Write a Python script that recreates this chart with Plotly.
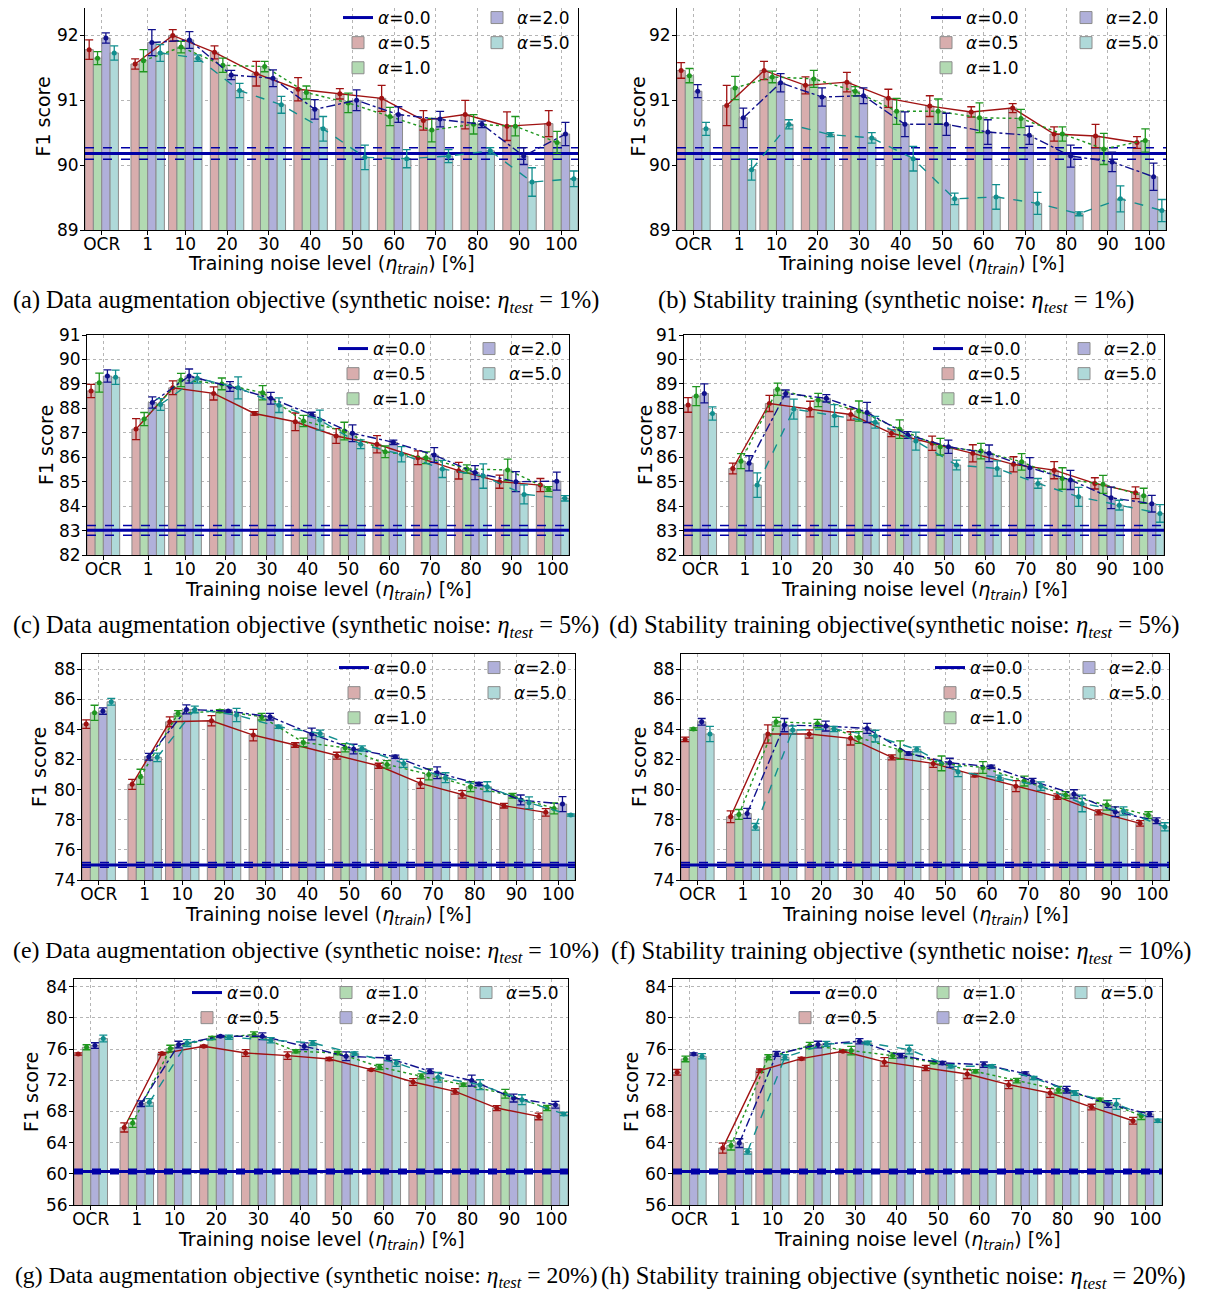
import plotly.graph_objects as go

W, H = 1206, 1298
OX, OY = 8, 8          # page body offset of the figure
FW, FH = W - OX, H - OY
FONT = "DejaVu Sans"
SERIF = "Liberation Serif"

# ---------------- data ----------------
CATEGORIES = ["OCR", "1", "10", "20", "30", "40", "50", "60", "70", "80", "90", "100"]
TRAIN_NOISE = [1, 10, 20, 30, 40, 50, 60, 70, 80, 90, 100]
ALPHAS = ["0.5", "1.0", "2.0", "5.0"]
TEST_NOISE = ["1%", "5%", "10%", "20%"]
BASELINE_MEAN = [90.18, 83.01, 75.00, 60.30]
BASELINE_STD = [0.09, 0.20, 0.16, 0.30]

# (a) data augmentation, eta_test = 1%
a_alpha05 = [91.78, 91.56, 92.00, 91.74, 91.41, 91.17, 91.10, 91.03, 90.69, 90.78, 90.60, 90.64]
a_alpha05_err = [0.15, 0.08, 0.09, 0.10, 0.19, 0.18, 0.08, 0.20, 0.15, 0.22, 0.22, 0.20]
a_alpha10 = [91.65, 91.61, 91.82, 91.54, 91.52, 91.12, 90.96, 90.75, 90.54, 90.63, 90.60, 90.35]
a_alpha10_err = [0.10, 0.17, 0.09, 0.11, 0.08, 0.10, 0.15, 0.14, 0.18, 0.15, 0.15, 0.17]
a_alpha20 = [91.96, 91.89, 91.93, 91.39, 91.34, 90.86, 91.00, 90.78, 90.71, 90.63, 90.14, 90.48]
a_alpha20_err = [0.08, 0.20, 0.13, 0.07, 0.13, 0.15, 0.16, 0.12, 0.12, 0.05, 0.13, 0.18]
a_alpha50 = [91.73, 91.73, 91.65, 91.15, 90.93, 90.56, 90.12, 90.10, 90.14, 90.22, 89.74, 89.79]
a_alpha50_err = [0.11, 0.13, 0.05, 0.11, 0.13, 0.19, 0.19, 0.14, 0.10, 0.05, 0.22, 0.12]

# (b) stability training, eta_test = 1%
b_alpha05 = [91.46, 90.92, 91.46, 91.23, 91.28, 91.03, 90.91, 90.82, 90.88, 90.48, 90.45, 90.35]
b_alpha05_err = [0.12, 0.31, 0.14, 0.13, 0.15, 0.14, 0.16, 0.08, 0.07, 0.11, 0.18, 0.09]
b_alpha10 = [91.38, 91.19, 91.36, 91.33, 91.14, 90.83, 90.83, 90.73, 90.72, 90.48, 90.25, 90.38]
b_alpha10_err = [0.11, 0.18, 0.09, 0.13, 0.07, 0.20, 0.19, 0.23, 0.14, 0.11, 0.24, 0.18]
b_alpha20 = [91.14, 90.73, 91.27, 91.05, 91.07, 90.63, 90.63, 90.51, 90.46, 90.14, 90.05, 89.82]
b_alpha20_err = [0.10, 0.15, 0.14, 0.14, 0.12, 0.19, 0.17, 0.19, 0.14, 0.17, 0.15, 0.21]
b_alpha50 = [90.56, 89.93, 90.63, 90.47, 90.42, 90.10, 89.48, 89.51, 89.41, 89.25, 89.48, 89.30]
b_alpha50_err = [0.10, 0.16, 0.07, 0.03, 0.08, 0.19, 0.09, 0.19, 0.17, 0.03, 0.20, 0.17]

# (c) data augmentation, eta_test = 5%
c_alpha05 = [88.71, 87.15, 88.84, 88.61, 87.79, 87.45, 86.87, 86.53, 85.98, 85.45, 85.00, 84.86]
c_alpha05_err = [0.27, 0.43, 0.28, 0.27, 0.07, 0.36, 0.30, 0.35, 0.28, 0.34, 0.27, 0.27]
c_alpha10 = [89.05, 87.56, 89.16, 89.00, 88.64, 87.48, 87.07, 86.22, 85.98, 85.52, 85.48, 84.70]
c_alpha10_err = [0.39, 0.27, 0.27, 0.24, 0.29, 0.23, 0.36, 0.24, 0.24, 0.17, 0.44, 0.10]
c_alpha20 = [89.32, 88.24, 89.32, 88.89, 88.41, 87.75, 86.98, 86.61, 86.09, 85.37, 85.00, 85.02]
c_alpha20_err = [0.25, 0.23, 0.29, 0.20, 0.24, 0.09, 0.34, 0.09, 0.30, 0.29, 0.41, 0.37]
c_alpha50 = [89.27, 88.16, 89.23, 88.84, 88.13, 87.52, 86.53, 86.12, 85.52, 85.23, 84.48, 84.32]
c_alpha50_err = [0.29, 0.24, 0.20, 0.45, 0.30, 0.41, 0.18, 0.31, 0.35, 0.50, 0.39, 0.11]

# (d) stability training, eta_test = 5%
d_alpha05 = [88.14, 85.54, 88.20, 87.97, 87.75, 86.98, 86.57, 86.16, 85.71, 85.47, 84.93, 84.55]
d_alpha05_err = [0.30, 0.22, 0.33, 0.32, 0.23, 0.14, 0.29, 0.35, 0.31, 0.35, 0.23, 0.24]
d_alpha10 = [88.50, 85.84, 88.78, 88.34, 87.89, 87.15, 86.43, 86.25, 85.81, 85.13, 84.89, 84.42]
d_alpha10_err = [0.39, 0.31, 0.25, 0.27, 0.41, 0.38, 0.34, 0.32, 0.34, 0.44, 0.37, 0.31]
d_alpha20 = [88.61, 85.75, 88.61, 88.41, 87.83, 86.91, 86.43, 86.16, 85.57, 85.07, 84.34, 84.10]
d_alpha20_err = [0.39, 0.31, 0.14, 0.15, 0.41, 0.14, 0.27, 0.34, 0.41, 0.39, 0.44, 0.34]
d_alpha50 = [87.79, 84.86, 87.97, 87.70, 87.43, 86.66, 85.68, 85.54, 84.93, 84.38, 84.04, 83.70]
d_alpha50_err = [0.27, 0.50, 0.41, 0.45, 0.24, 0.37, 0.20, 0.31, 0.20, 0.39, 0.20, 0.36]

# (e) data augmentation, eta_test = 10%
e_alpha05 = [84.35, 80.35, 84.50, 84.57, 83.62, 82.96, 82.25, 81.58, 80.41, 79.68, 78.93, 78.49]
e_alpha05_err = [0.28, 0.33, 0.33, 0.34, 0.38, 0.15, 0.23, 0.17, 0.33, 0.25, 0.15, 0.25]
e_alpha10 = [85.10, 80.85, 85.06, 85.21, 84.84, 83.13, 82.78, 81.67, 81.01, 80.19, 79.59, 78.75]
e_alpha10_err = [0.50, 0.50, 0.18, 0.10, 0.22, 0.28, 0.27, 0.25, 0.36, 0.33, 0.15, 0.36]
e_alpha20 = [85.21, 82.18, 85.32, 85.21, 84.84, 83.69, 82.69, 82.18, 81.12, 80.37, 79.31, 79.04]
e_alpha20_err = [0.21, 0.22, 0.30, 0.07, 0.22, 0.39, 0.32, 0.11, 0.39, 0.11, 0.33, 0.50]
e_alpha50 = [85.83, 82.14, 85.32, 84.95, 84.17, 83.73, 82.73, 81.74, 80.79, 80.19, 79.13, 78.31]
e_alpha50_err = [0.22, 0.28, 0.22, 0.44, 0.11, 0.22, 0.17, 0.27, 0.33, 0.33, 0.39, 0.07]

# (f) stability training, eta_test = 10%
f_alpha05 = [83.33, 78.20, 83.69, 83.69, 83.40, 82.14, 81.74, 80.96, 80.23, 79.53, 78.49, 77.76]
f_alpha05_err = [0.15, 0.39, 0.60, 0.28, 0.44, 0.17, 0.27, 0.11, 0.37, 0.18, 0.17, 0.18]
f_alpha10 = [84.02, 78.35, 84.50, 84.39, 83.46, 82.62, 81.74, 81.47, 80.57, 79.64, 78.97, 78.31]
f_alpha10_err = [0.08, 0.33, 0.29, 0.27, 0.39, 0.62, 0.49, 0.39, 0.33, 0.22, 0.33, 0.22]
f_alpha20 = [84.50, 78.42, 84.28, 84.22, 84.06, 82.40, 81.78, 81.52, 80.57, 79.71, 78.53, 77.93]
f_alpha20_err = [0.22, 0.33, 0.44, 0.33, 0.33, 0.11, 0.30, 0.11, 0.17, 0.28, 0.33, 0.19]
f_alpha50 = [83.69, 77.53, 83.95, 84.02, 83.55, 82.67, 81.19, 80.79, 80.23, 79.08, 78.58, 77.53]
f_alpha50_err = [0.50, 0.22, 0.27, 0.17, 0.39, 0.17, 0.33, 0.17, 0.28, 0.55, 0.28, 0.27]

# (g) data augmentation, eta_test = 20%
g_alpha05 = [75.38, 65.95, 75.43, 76.37, 75.51, 75.17, 74.74, 73.37, 71.78, 70.58, 68.44, 67.37]
g_alpha05_err = [0.15, 0.58, 0.15, 0.13, 0.43, 0.49, 0.21, 0.13, 0.43, 0.34, 0.32, 0.43]
g_alpha10 = [76.24, 66.51, 76.07, 77.44, 77.87, 75.73, 75.51, 73.71, 72.51, 71.44, 70.28, 68.44]
g_alpha10_err = [0.32, 0.56, 0.43, 0.21, 0.34, 0.21, 0.21, 0.32, 0.32, 0.21, 0.56, 0.34]
g_alpha20 = [76.46, 69.00, 76.58, 77.66, 77.66, 76.37, 75.08, 74.87, 73.16, 71.96, 69.73, 68.87]
g_alpha20_err = [0.36, 0.36, 0.43, 0.10, 0.43, 0.43, 0.56, 0.34, 0.30, 0.70, 0.51, 0.43]
g_alpha50 = [77.36, 69.17, 76.80, 77.53, 77.14, 76.80, 75.43, 74.23, 72.38, 71.44, 69.51, 67.67]
g_alpha50_err = [0.43, 0.49, 0.43, 0.28, 0.34, 0.30, 0.21, 0.43, 0.62, 0.64, 0.64, 0.21]

# (h) stability training, eta_test = 20%
h_alpha05 = [73.03, 63.30, 73.24, 74.78, 75.73, 74.36, 73.58, 72.81, 71.44, 70.37, 68.57, 66.81]
h_alpha05_err = [0.36, 0.64, 0.21, 0.15, 0.13, 0.54, 0.34, 0.58, 0.51, 0.56, 0.36, 0.43]
h_alpha10 = [74.74, 63.64, 74.96, 76.46, 75.81, 75.17, 74.31, 73.16, 71.96, 70.80, 69.51, 67.46]
h_alpha10_err = [0.36, 0.58, 0.32, 0.40, 0.54, 0.36, 0.15, 0.21, 0.28, 0.43, 0.21, 0.49]
h_alpha20 = [75.38, 63.94, 75.38, 76.58, 77.01, 75.17, 74.23, 74.01, 72.86, 70.80, 68.96, 67.67]
h_alpha20_err = [0.15, 0.56, 0.32, 0.43, 0.34, 0.28, 0.21, 0.34, 0.21, 0.43, 0.43, 0.32]
h_alpha50 = [75.08, 62.87, 74.96, 76.67, 76.80, 75.94, 73.80, 73.80, 72.30, 70.37, 68.96, 66.81]
h_alpha50_err = [0.34, 0.34, 0.32, 0.32, 0.21, 0.56, 0.21, 0.21, 0.21, 0.30, 0.70, 0.21]

Y_TICKS_1 = [89, 90, 91, 92]
Y_TICKS_5 = [82, 83, 84, 85, 86, 87, 88, 89, 90, 91]
Y_TICKS_10 = [74, 76, 78, 80, 82, 84, 86, 88]
Y_TICKS_20 = [56, 60, 64, 68, 72, 76, 80, 84]

CAPTION_LEFT = "Data augmentation objective"
CAPTION_RIGHT = ["Stability training", "Stability training objective",
                 "Stability training objective", "Stability training objective"]

# ---------------- styles ----------------
BAR_FILL = {"0.5": "#d8adad", "1.0": "#b2dab2", "2.0": "#b0b0da", "5.0": "#afd9d9"}
LINE_COLOR = {"0.5": "#a01212", "1.0": "#1f961f", "2.0": "#10108c", "5.0": "#118e8e"}
DASH = {"0.5": "solid", "1.0": "dot", "2.0": "dashdot", "5.0": "dash"}
BASE_COLOR = "#0000a6"
BAR_EDGE = "#8c8c8c"

panels = [
    dict(tag="a", test=0, series=[(a_alpha05, a_alpha05_err), (a_alpha10, a_alpha10_err), (a_alpha20, a_alpha20_err), (a_alpha50, a_alpha50_err)], yr=[89, 92.5], yt=Y_TICKS_1),
    dict(tag="b", test=0, series=[(b_alpha05, b_alpha05_err), (b_alpha10, b_alpha10_err), (b_alpha20, b_alpha20_err), (b_alpha50, b_alpha50_err)], yr=[89, 92.5], yt=Y_TICKS_1),
    dict(tag="c", test=1, series=[(c_alpha05, c_alpha05_err), (c_alpha10, c_alpha10_err), (c_alpha20, c_alpha20_err), (c_alpha50, c_alpha50_err)], yr=[82, 91], yt=Y_TICKS_5),
    dict(tag="d", test=1, series=[(d_alpha05, d_alpha05_err), (d_alpha10, d_alpha10_err), (d_alpha20, d_alpha20_err), (d_alpha50, d_alpha50_err)], yr=[82, 91], yt=Y_TICKS_5),
    dict(tag="e", test=2, series=[(e_alpha05, e_alpha05_err), (e_alpha10, e_alpha10_err), (e_alpha20, e_alpha20_err), (e_alpha50, e_alpha50_err)], yr=[74, 89], yt=Y_TICKS_10),
    dict(tag="f", test=2, series=[(f_alpha05, f_alpha05_err), (f_alpha10, f_alpha10_err), (f_alpha20, f_alpha20_err), (f_alpha50, f_alpha50_err)], yr=[74, 89], yt=Y_TICKS_10),
    dict(tag="g", test=3, series=[(g_alpha05, g_alpha05_err), (g_alpha10, g_alpha10_err), (g_alpha20, g_alpha20_err), (g_alpha50, g_alpha50_err)], yr=[56, 85], yt=Y_TICKS_20),
    dict(tag="h", test=3, series=[(h_alpha05, h_alpha05_err), (h_alpha10, h_alpha10_err), (h_alpha20, h_alpha20_err), (h_alpha50, h_alpha50_err)], yr=[56, 85], yt=Y_TICKS_20),
]

# ---------------- layout geometry (screen pixels) ----------------
def px2x(px):
    return min(1.0, max(0.0, (px - OX) / FW))


def py2y(py):
    return 1 - (py - OY) / FH


# axes box: left, right, top, bottom
GEOM = [(85, 578, 3, 230), (677, 1166, 3, 230),
        (87, 569, 335, 555), (684, 1164, 335, 555),
        (82, 575, 654, 880), (681, 1169, 654, 880),
        (74, 568, 979, 1205), (673, 1162, 979, 1205)]
# legend columns: left pixel of each column, top pixel
LEG_GEOM = [([338, 477], 0), ([926, 1066], 0),
            ([333, 469], 331), ([928, 1064], 331),
            ([334, 474], 650), ([930, 1069], 650),
            ([187, 326, 466], 975), ([785, 923, 1061], 975)]
LEG_COLS_2 = [["0.0", "0.5", "1.0"], ["2.0", "5.0"]]
LEG_COLS_3 = [["0.0", "0.5"], ["1.0", "2.0"], ["5.0"]]
YTITLE_X = [42, 637, 46, 645, 39, 639, 31, 631]
XTITLE_Y = [264, 264, 590, 590, 915, 915, 1240, 1240]
CAP_X = [306, 896, 306, 894, 306, 901, 306, 893]
CAP_Y = [301, 301, 626, 626, 952, 952, 1277, 1277]
CAP_SIZE = [24.3, 24.5, 24.3, 24.7, 23.8, 24.5, 23.6, 24.5]

XP = [-1.0] + [n / 10 for n in TRAIN_NOISE]
X_RANGE = [XP[0] - 0.4, XP[-1] + 0.4]
BAR_W = 0.2

fig = go.Figure()
layout = dict(width=FW, height=FH, margin=dict(l=0, r=0, t=0, b=0, autoexpand=False),
              plot_bgcolor="white", paper_bgcolor="white", barmode="overlay",
              showlegend=True, font=dict(family=FONT, size=17, color="black"))
annotations = []
leg_n = 0

for k, p in enumerate(panels):
    sfx = "" if k == 0 else str(k + 1)
    xa, ya = "x" + sfx, "y" + sfx
    l, r, t, b = GEOM[k]
    # keep the axes inside the figure; keep the value scale of the reference
    t_in = max(t, OY)
    y_lo, y_hi = p["yr"]
    y_hi_in = y_lo + (y_hi - y_lo) * (b - t_in) / (b - t)
    cols = LEG_COLS_3 if p["test"] == 3 else LEG_COLS_2
    col_lefts, leg_top = LEG_GEOM[k]
    alpha_leg = {}
    for ci, col in enumerate(cols):
        leg_n += 1
        lid = "legend" if leg_n == 1 else "legend%d" % leg_n
        for a in col:
            alpha_leg[a] = lid
        layout[lid] = dict(x=px2x(col_lefts[ci]), y=py2y(leg_top), xanchor="left", yanchor="top",
                           bgcolor="rgba(0,0,0,0)", borderwidth=0, itemwidth=30,
                           traceorder="normal", orientation="v",
                           font=dict(family=FONT, size=17, color="black"))

    bm = BASELINE_MEAN[p["test"]]
    bs = BASELINE_STD[p["test"]]
    # alpha = 0.0 baseline
    fig.add_trace(go.Scatter(x=X_RANGE, y=[bm, bm], mode="lines", xaxis=xa, yaxis=ya,
                             line=dict(color=BASE_COLOR, width=3), name="<i>α</i>=0.0",
                             legend=alpha_leg["0.0"], showlegend=True, hoverinfo="skip"))
    for off in (bs, -bs):
        fig.add_trace(go.Scatter(x=X_RANGE, y=[bm + off, bm + off], mode="lines", xaxis=xa, yaxis=ya,
                                 line=dict(color=BASE_COLOR, width=1.5, dash="dash"),
                                 showlegend=False, hoverinfo="skip"))
    # bars
    for j, a in enumerate(ALPHAS):
        means, errs = p["series"][j]
        fig.add_trace(go.Bar(x=XP, y=means, width=BAR_W, offset=-2 * BAR_W + j * BAR_W,
                             xaxis=xa, yaxis=ya, name="<i>α</i>=" + a, legend=alpha_leg[a],
                             marker=dict(color=BAR_FILL[a], line=dict(color=BAR_EDGE, width=1)),
                             showlegend=True, hoverinfo="skip"))
    # lines with error bars
    for j, a in enumerate(ALPHAS):
        means, errs = p["series"][j]
        c = -1.5 * BAR_W + j * BAR_W
        lc = LINE_COLOR[a]
        eb = dict(type="data", color=lc, thickness=1.3, width=4, visible=True)
        fig.add_trace(go.Scatter(x=[XP[0] + c], y=[means[0]], mode="markers", xaxis=xa, yaxis=ya,
                                 marker=dict(color=lc, size=5),
                                 error_y=dict(eb, array=[errs[0]]),
                                 showlegend=False, hoverinfo="skip"))
        fig.add_trace(go.Scatter(x=[xv + c for xv in XP[1:]], y=means[1:], mode="lines+markers",
                                 xaxis=xa, yaxis=ya, marker=dict(color=lc, size=5),
                                 line=dict(color=lc, width=1.4, dash=DASH[a]),
                                 error_y=dict(eb, array=errs[1:]),
                                 showlegend=False, hoverinfo="skip"))

    axis_common = dict(showline=True, mirror=True, linecolor="black", linewidth=1,
                       ticks="outside", ticklen=4, tickcolor="black", tickwidth=1,
                       showgrid=True, gridcolor="#b5b5b5", griddash="dot", gridwidth=1,
                       zeroline=False, automargin=False,
                       tickfont=dict(family=FONT, size=17, color="black"))
    layout["xaxis" + sfx] = dict(axis_common, domain=[px2x(l), px2x(r)], anchor=ya, range=X_RANGE,
                                 tickmode="array", tickvals=XP, ticktext=CATEGORIES,
                                 ticklabelstandoff=-5)
    layout["yaxis" + sfx] = dict(axis_common, domain=[py2y(b), py2y(t_in)], anchor=xa,
                                 range=[y_lo, y_hi_in], tickmode="array", tickvals=p["yt"],
                                 ticklabelstandoff=-2)

    annotations.append(dict(text="F1 score", x=px2x(YTITLE_X[k]), y=py2y((t + b) / 2),
                            xref="paper", yref="paper", showarrow=False, textangle=-90,
                            xanchor="center", yanchor="middle",
                            font=dict(family=FONT, size=19, color="black")))
    annotations.append(dict(text="Training noise level (<i>η<sub>train</sub></i>) [%]",
                            x=px2x((l + r) / 2), y=py2y(XTITLE_Y[k]), xref="paper", yref="paper",
                            showarrow=False, xanchor="center", yanchor="middle",
                            font=dict(family=FONT, size=19, color="black")))
    title = CAPTION_LEFT if k % 2 == 0 else CAPTION_RIGHT[p["test"]]
    sep = "" if p["tag"] == "d" else " "
    cap = "(%s) %s%s(synthetic noise: <i>η<sub>test</sub></i> = %s)" % (p["tag"], title, sep, TEST_NOISE[p["test"]])
    annotations.append(dict(text=cap, x=px2x(CAP_X[k]), y=py2y(CAP_Y[k]), xref="paper", yref="paper",
                            showarrow=False, xanchor="center", yanchor="middle",
                            font=dict(family=SERIF, size=CAP_SIZE[k], color="black")))

layout["annotations"] = annotations
fig.update_layout(**layout)
fig.write_html("out.html")
